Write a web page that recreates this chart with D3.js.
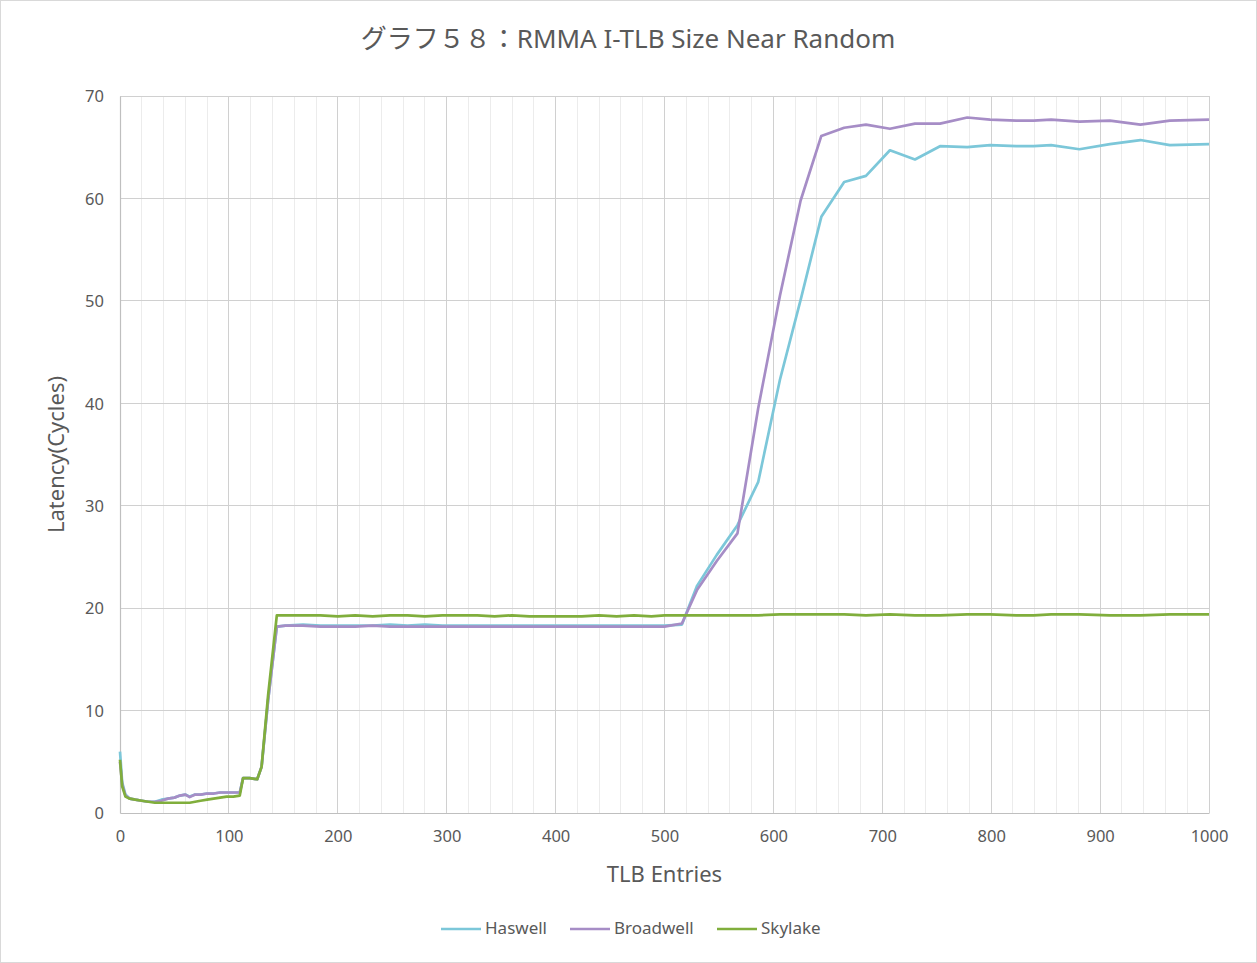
<!DOCTYPE html>
<html><head><meta charset="utf-8">
<script src="https://cdn.jsdelivr.net/npm/d3@7"></script>
<style>html,body{margin:0;padding:0;background:#fff;}svg{display:block;}</style>
</head><body>
<script>
const title = "グラフ５８：RMMA I-TLB Size Near Random";
const xLabel = "TLB Entries";
const yLabel = "Latency(Cycles)";
const seriesNames = ["Haswell", "Broadwell", "Skylake"];
const seriesColors = ["#7cc7d9", "#a68dc6", "#80ae3c"];
const xTicks = [0,100,200,300,400,500,600,700,800,900,1000];
const yTicks = [0,10,20,30,40,50,60,70];

const entries = [0,2,5,9,14,20,26,32,38,44,50,55,60,64,69,74,80,86,92,98,104,110,113,119,126,130,136,144,
  152,168,184,200,216,232,248,264,280,296,312,328,344,360,376,392,408,424,440,456,472,488,500,516,
  530,548,567,586,606,625,644,665,685,707,730,753,778,799,823,839,855,881,909,937,964,1000];

const haswell = [6.0,3.0,1.8,1.4,1.3,1.2,1.1,1.1,1.3,1.4,1.5,1.7,1.8,1.6,1.8,1.8,1.9,1.9,2.0,2.0,2.0,2.0,3.4,3.4,3.3,4.5,11.0,18.2,
  18.3,18.4,18.3,18.3,18.3,18.3,18.4,18.3,18.4,18.3,18.3,18.3,18.3,18.3,18.3,18.3,18.3,18.3,18.3,18.3,18.3,18.3,18.3,18.4,
  22.2,25.2,28.1,32.3,42.3,50.1,58.2,61.6,62.2,64.7,63.8,65.1,65.0,65.2,65.1,65.1,65.2,64.8,65.3,65.7,65.2,65.3];
const broadwell = [5.0,2.8,1.7,1.4,1.3,1.2,1.1,1.1,1.2,1.4,1.5,1.7,1.8,1.55,1.8,1.8,1.9,1.9,2.0,2.0,2.0,2.0,3.4,3.4,3.3,4.5,11.0,18.2,
  18.3,18.3,18.2,18.2,18.2,18.3,18.2,18.2,18.2,18.2,18.2,18.2,18.2,18.2,18.2,18.2,18.2,18.2,18.2,18.2,18.2,18.2,18.2,18.5,
  21.8,24.6,27.3,39.5,50.5,59.8,66.1,66.9,67.2,66.8,67.3,67.3,67.9,67.7,67.6,67.6,67.7,67.5,67.6,67.2,67.6,67.7];
const skylake = [5.2,2.6,1.6,1.4,1.3,1.2,1.1,1.0,1.0,1.0,1.0,1.0,1.0,1.0,1.1,1.2,1.3,1.4,1.5,1.6,1.6,1.7,3.4,3.4,3.3,4.5,11.5,19.3,
  19.3,19.3,19.3,19.2,19.3,19.2,19.3,19.3,19.2,19.3,19.3,19.3,19.2,19.3,19.2,19.2,19.2,19.2,19.3,19.2,19.3,19.2,19.3,19.3,
  19.3,19.3,19.3,19.3,19.4,19.4,19.4,19.4,19.3,19.4,19.3,19.3,19.4,19.4,19.3,19.3,19.4,19.4,19.3,19.3,19.4,19.4];

const W = 1257, H = 963;
const m = {left:120, right:W-1209, top:96, bottom:H-813};
const font = "'Noto Sans','Noto Sans CJK JP',sans-serif";
const textColor = "#595959";

const svg = d3.select("body").append("svg").attr("width", W).attr("height", H);
svg.append("rect").attr("x",0.5).attr("y",0.5).attr("width",W-1).attr("height",H-1)
  .attr("fill","#fff").attr("stroke","#d9d9d9");

const x = d3.scaleLinear().domain([0,1000]).range([m.left, W-m.right]);
const y = d3.scaleLinear().domain([0,70]).range([H-m.bottom, m.top]);

// minor vertical grid
const g = svg.append("g");
g.selectAll("line.minor").data(d3.range(0,1001,20).filter(v => v % 100 !== 0)).join("line")
  .attr("x1", d=>x(d)).attr("x2", d=>x(d)).attr("y1", y(0)).attr("y2", y(70))
  .attr("stroke","#ececec").attr("stroke-width",1).attr("shape-rendering","crispEdges");
g.selectAll("line.majx").data(xTicks.slice(1)).join("line")
  .attr("x1", d=>x(d)).attr("x2", d=>x(d)).attr("y1", y(0)).attr("y2", y(70))
  .attr("stroke","#d0d0d0").attr("stroke-width",1).attr("shape-rendering","crispEdges");
g.selectAll("line.majy").data(yTicks.slice(1)).join("line")
  .attr("x1", x(0)).attr("x2", x(1000)).attr("y1", d=>y(d)).attr("y2", d=>y(d))
  .attr("stroke","#d0d0d0").attr("stroke-width",1).attr("shape-rendering","crispEdges");

// axes
const xAxis = svg.append("g").attr("transform",`translate(0,${y(0)})`)
  .call(d3.axisBottom(x).tickValues(xTicks).tickFormat(d3.format("d")).tickSize(0).tickPadding(17));
const yAxis = svg.append("g").attr("transform",`translate(${x(0)},0)`)
  .call(d3.axisLeft(y).tickValues(yTicks).tickFormat(d3.format("d")).tickSize(0).tickPadding(16));
[xAxis, yAxis].forEach(a => {
  a.select(".domain").attr("stroke","#bfbfbf").attr("stroke-width",1.2);
  a.selectAll("text").attr("fill",textColor).style("font-family",font).style("font-size","16.5px");
});
yAxis.selectAll("text").attr("dy","0.35em");

// lines
const series = [haswell, broadwell, skylake];
const line = d3.line().x((d,i)=>x(entries[i])).y(d=>y(d));
series.forEach((s,k) => {
  svg.append("path").datum(s).attr("d", line).attr("fill","none")
    .attr("stroke", seriesColors[k]).attr("stroke-width",2.7).attr("stroke-linejoin","round");
});

// titles
svg.append("text").attr("x",628).attr("y",48).attr("text-anchor","middle")
  .attr("fill",textColor).style("font-family",font).style("font-size","26px").text(title);
svg.append("text").attr("x",(x(0)+x(1000))/2).attr("y",882).attr("text-anchor","middle")
  .attr("fill",textColor).style("font-family",font).style("font-size","22px").text(xLabel);
svg.append("text").attr("transform",`translate(64,${(y(0)+y(70))/2}) rotate(-90)`).attr("text-anchor","middle")
  .attr("fill",textColor).style("font-family",font).style("font-size","22px").text(yLabel);

// legend
const legX = [441, 570, 717];
const leg = svg.append("g");
seriesNames.forEach((n,k) => {
  leg.append("line").attr("x1",legX[k]).attr("x2",legX[k]+40).attr("y1",929).attr("y2",929)
    .attr("stroke",seriesColors[k]).attr("stroke-width",2.7);
  leg.append("text").attr("x",legX[k]+44).attr("y",934).attr("fill",textColor)
    .style("font-family",font).style("font-size","17px").text(n);
});
</script>
</body></html>
